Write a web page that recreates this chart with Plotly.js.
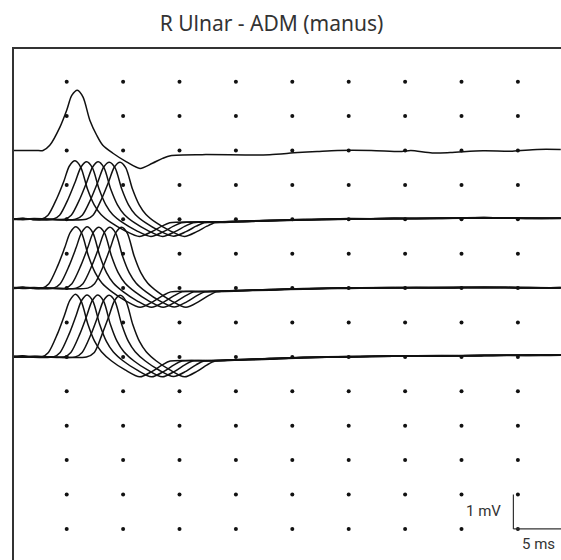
<!DOCTYPE html>
<html>
<head>
<meta charset="utf-8">
<script src="https://cdn.plot.ly/plotly-3.0.1.min.js"></script>
<style>html,body{margin:0;padding:0;background:#fff;}#chart{width:561px;height:560px;}</style>
</head>
<body>
<div id="chart"></div>
<script>
// Grid of dots: one every 5 ms and every 1 mV
const gridTimes = [5, 10, 15, 20, 25, 30, 35, 40, 45];
const gridLevels = [0, -1, -2, -3, -4, -5, -6, -7, -8, -9, -10, -11, -12, -13];

// Channel baselines (mV offsets on the display)
const channelOffsets = [-2, -4, -6, -8];

// Channel 1: single response (time ms, amplitude mV)
const ch1Time = [0.3, 1.5, 2.3, 2.9, 3.5, 4.4, 5.0, 5.45, 5.95, 6.45, 7.05, 7.65, 8.2, 9.1, 10.3, 11.5, 12.6, 13.5, 14.2, 17, 21.2, 23, 25.5, 27.2, 29, 32, 34.7, 35.5, 37.4, 39, 41.9, 44.5, 46.7, 48.8];
const ch1Val  = [0, 0, 0, 0, 0.15, 0.68, 1.17, 1.6, 1.75, 1.55, 0.88, 0.45, 0.15, -0.08, -0.33, -0.52, -0.37, -0.23, -0.15, -0.12, -0.13, -0.12, -0.06, -0.03, 0, 0, -0.03, 0, -0.07, -0.06, -0.01, -0.02, 0.03, 0.03];

// Channel 2: five responses
const ch2Times = [
  [0.3, 1.1, 1.9, 2.74, 3.34, 4.14, 4.74, 5.24, 5.74, 6.24, 6.84, 7.44, 8.04, 8.94, 10.14, 11.44, 12.54, 13.44, 14.14, 17, 20, 23, 26, 30, 34, 38, 42, 46, 48.8],
  [0.3, 1.2, 2.0, 3.77, 4.37, 5.17, 5.77, 6.27, 6.77, 7.27, 7.87, 8.47, 9.07, 9.97, 11.17, 12.47, 13.57, 14.47, 15.17, 17.5, 20, 23, 26, 30, 34, 38, 42, 46, 48.8],
  [0.3, 1.0, 2.2, 4.8, 5.4, 6.2, 6.8, 7.3, 7.8, 8.3, 8.9, 9.5, 10.1, 11.0, 12.2, 13.5, 14.6, 15.5, 16.2, 18, 20, 23, 26, 30, 34, 38, 42, 46, 48.8],
  [0.3, 1.3, 2.1, 5.78, 6.38, 7.18, 7.78, 8.28, 8.78, 9.28, 9.88, 10.48, 11.08, 11.98, 13.18, 14.48, 15.58, 16.48, 17.18, 18.5, 20, 23, 26, 30, 34, 38, 42, 46, 48.8],
  [0.3, 1.1, 2.4, 6.73, 7.33, 8.13, 8.73, 9.23, 9.73, 10.23, 10.83, 11.43, 12.03, 12.93, 14.13, 15.43, 16.53, 17.43, 18.13, 19, 20.5, 23, 26, 30, 34, 38, 42, 46, 48.8]
];
const ch2Vals = [
  [0.01, 0.03, 0, 0, 0.12, 0.62, 1.1, 1.55, 1.70, 1.52, 0.88, 0.42, 0.14, -0.1, -0.33, -0.5, -0.36, -0.2, -0.1, -0.08, -0.07, -0.04, -0.02, 0.01, 0.02, 0.03, 0.04, 0.03, 0.03],
  [0, 0.02, -0.01, 0, 0.12, 0.62, 1.1, 1.52, 1.67, 1.5, 0.88, 0.42, 0.14, -0.1, -0.33, -0.5, -0.36, -0.2, -0.1, -0.08, -0.06, -0.03, -0.01, 0.0, 0.03, 0.02, 0.05, 0.02, 0.04],
  [0.02, 0, 0.01, 0, 0.12, 0.62, 1.1, 1.52, 1.67, 1.5, 0.88, 0.42, 0.14, -0.1, -0.33, -0.5, -0.36, -0.2, -0.1, -0.08, -0.07, -0.05, -0.02, 0.02, 0.01, 0.04, 0.03, 0.03, 0.02],
  [-0.01, 0.01, 0.02, 0, 0.12, 0.62, 1.1, 1.52, 1.66, 1.5, 0.88, 0.42, 0.14, -0.1, -0.33, -0.49, -0.36, -0.2, -0.1, -0.08, -0.06, -0.04, 0, 0.01, 0.02, 0.02, 0.04, 0.04, 0.03],
  [0.01, -0.01, 0.01, 0, 0.12, 0.62, 1.1, 1.52, 1.66, 1.5, 0.88, 0.42, 0.14, -0.1, -0.33, -0.5, -0.36, -0.2, -0.1, -0.09, -0.07, -0.03, -0.01, 0.0, 0.03, 0.03, 0.05, 0.02, 0.03]
];

// Channel 3: five responses
const ch3Times = [
  [0.3, 1.1, 1.9, 2.82, 3.42, 4.22, 4.82, 5.32, 5.82, 6.32, 6.92, 7.52, 8.12, 9.02, 10.22, 11.52, 12.62, 13.52, 14.22, 17, 20, 23, 26, 30, 34, 38, 42, 46, 48.8],
  [0.3, 1.2, 2.0, 3.83, 4.43, 5.23, 5.83, 6.33, 6.83, 7.33, 7.93, 8.53, 9.13, 10.03, 11.23, 12.53, 13.63, 14.53, 15.23, 17.5, 20, 23, 26, 30, 34, 38, 42, 46, 48.8],
  [0.3, 1.0, 2.2, 4.86, 5.46, 6.26, 6.86, 7.36, 7.86, 8.36, 8.96, 9.56, 10.16, 11.06, 12.26, 13.56, 14.66, 15.56, 16.26, 18, 20, 23, 26, 30, 34, 38, 42, 46, 48.8],
  [0.3, 1.3, 2.1, 5.84, 6.44, 7.24, 7.84, 8.34, 8.84, 9.34, 9.94, 10.54, 11.14, 12.04, 13.24, 14.54, 15.64, 16.54, 17.24, 18.5, 20, 23, 26, 30, 34, 38, 42, 46, 48.8],
  [0.3, 1.1, 2.4, 6.87, 7.47, 8.27, 8.87, 9.37, 9.87, 10.37, 10.97, 11.57, 12.17, 13.07, 14.27, 15.57, 16.67, 17.57, 18.27, 19, 20.5, 23, 26, 30, 34, 38, 42, 46, 48.8]
];
const ch3Vals = [
  [0.01, 0.03, 0, 0, 0.13, 0.66, 1.17, 1.62, 1.78, 1.6, 0.94, 0.45, 0.15, -0.11, -0.37, -0.56, -0.4, -0.22, -0.11, -0.1, -0.08, -0.05, -0.03, 0, 0.01, 0.02, 0.01, 0.02, 0.01],
  [0, 0.02, -0.01, 0, 0.13, 0.66, 1.17, 1.62, 1.78, 1.6, 0.94, 0.45, 0.15, -0.11, -0.37, -0.56, -0.4, -0.22, -0.11, -0.1, -0.07, -0.04, -0.02, 0.01, 0.02, 0.0, 0.02, 0.01, 0.02],
  [0.02, 0, 0.01, 0, 0.13, 0.66, 1.17, 1.62, 1.77, 1.6, 0.94, 0.45, 0.15, -0.11, -0.37, -0.56, -0.4, -0.22, -0.11, -0.1, -0.08, -0.06, -0.02, -0.01, 0.01, 0.02, 0.02, 0.0, 0.01],
  [-0.01, 0.01, 0.02, 0, 0.13, 0.66, 1.17, 1.62, 1.77, 1.6, 0.94, 0.45, 0.15, -0.11, -0.37, -0.55, -0.4, -0.22, -0.11, -0.1, -0.07, -0.05, -0.01, 0.0, 0.02, 0.01, 0.03, 0.01, 0.02],
  [0.01, -0.01, 0.01, 0, 0.13, 0.66, 1.17, 1.62, 1.77, 1.6, 0.94, 0.45, 0.15, -0.11, -0.37, -0.56, -0.4, -0.22, -0.11, -0.1, -0.08, -0.04, -0.02, 0.01, 0.0, 0.02, 0.02, 0.02, 0.0]
];

// Channel 4: five responses
const ch4Times = [
  [0.3, 1.1, 1.9, 2.78, 3.38, 4.18, 4.78, 5.28, 5.78, 6.28, 6.88, 7.48, 8.08, 8.98, 10.18, 11.48, 12.58, 13.48, 14.18, 17, 20, 23, 26, 30, 34, 38, 42, 46, 48.8],
  [0.3, 1.2, 2.0, 3.82, 4.42, 5.22, 5.82, 6.32, 6.82, 7.32, 7.92, 8.52, 9.12, 10.02, 11.22, 12.52, 13.62, 14.52, 15.22, 17.5, 20, 23, 26, 30, 34, 38, 42, 46, 48.8],
  [0.3, 1.0, 2.2, 4.77, 5.37, 6.17, 6.77, 7.27, 7.77, 8.27, 8.87, 9.47, 10.07, 10.97, 12.17, 13.47, 14.57, 15.47, 16.17, 18, 20, 23, 26, 30, 34, 38, 42, 46, 48.8],
  [0.3, 1.3, 2.1, 5.77, 6.37, 7.17, 7.77, 8.27, 8.77, 9.27, 9.87, 10.47, 11.07, 11.97, 13.17, 14.47, 15.57, 16.47, 17.17, 18.5, 20, 23, 26, 30, 34, 38, 42, 46, 48.8],
  [0.3, 1.1, 2.4, 6.75, 7.45, 8.15, 8.75, 9.25, 9.75, 10.25, 10.85, 11.45, 12.05, 12.95, 14.15, 15.45, 16.55, 17.45, 18.15, 19, 20.5, 23, 26, 30, 34, 38, 42, 46, 48.8]
];
const ch4Vals = [
  [0.01, 0.03, 0, 0, 0.13, 0.67, 1.19, 1.64, 1.82, 1.62, 0.95, 0.45, 0.15, -0.12, -0.38, -0.58, -0.42, -0.23, -0.12, -0.11, -0.09, -0.06, -0.03, 0, 0.02, 0.03, 0.04, 0.05, 0.06],
  [0, 0.02, -0.01, 0, 0.13, 0.67, 1.19, 1.64, 1.8, 1.62, 0.95, 0.45, 0.15, -0.12, -0.38, -0.58, -0.42, -0.23, -0.12, -0.11, -0.08, -0.05, -0.02, 0.01, 0.03, 0.02, 0.05, 0.04, 0.05],
  [0.02, 0, 0.01, 0, 0.13, 0.67, 1.19, 1.64, 1.8, 1.62, 0.95, 0.45, 0.15, -0.12, -0.38, -0.58, -0.42, -0.23, -0.12, -0.11, -0.09, -0.07, -0.02, 0.0, 0.02, 0.04, 0.03, 0.06, 0.05],
  [-0.01, 0.01, 0.02, 0, 0.13, 0.67, 1.19, 1.64, 1.79, 1.62, 0.95, 0.45, 0.15, -0.12, -0.38, -0.57, -0.42, -0.23, -0.12, -0.11, -0.08, -0.05, -0.01, 0.01, 0.03, 0.03, 0.05, 0.05, 0.06],
  [0.01, -0.01, 0.01, 0, 0.13, 0.67, 1.19, 1.64, 1.79, 1.62, 0.95, 0.45, 0.15, -0.12, -0.38, -0.58, -0.42, -0.23, -0.12, -0.11, -0.09, -0.05, -0.02, 0.0, 0.02, 0.03, 0.04, 0.04, 0.06]
];

// Scale bar
const scaleBarTime = 44.6;   // ms, left end
const scaleBarLevel = -13;   // mV, bottom
const scaleBarMv = 1;
const scaleBarMs = 5;

const traces = [];

// dots
const dx = [], dy = [];
gridLevels.forEach(l => gridTimes.forEach(t => { dx.push(t); dy.push(l); }));
traces.push({x: dx, y: dy, mode: 'markers', type: 'scatter', hoverinfo: 'skip',
  marker: {size: 4, color: '#111'}});

const lineStyle = {color: '#111', width: 1.5, shape: 'spline', smoothing: 0.8};

function addTrace(times, vals, offset) {
  traces.push({x: times, y: vals.map(v => v + offset), mode: 'lines', type: 'scatter',
    line: lineStyle, hoverinfo: 'skip'});
}
addTrace(ch1Time, ch1Val, channelOffsets[0]);
[[ch2Times, ch2Vals, 1], [ch3Times, ch3Vals, 2], [ch4Times, ch4Vals, 3]].forEach(([T, V, c]) => {
  T.forEach((t, i) => addTrace(t, V[i], channelOffsets[c]));
});

// pixel geometry: 1 ms = 11.28 px, 5 ms grid column at 66.7 px; 1 mV = 34.4 px, level 0 at 81.7 px
const L = 14, TOP = 49;
const xr = [(L - 10.3) / 11.28, (561 - 10.3) / 11.28];
const yr = [(560 - 81.7) / -34.4, (81.7 - TOP) / 34.4];

const layout = {
  width: 561, height: 560,
  margin: {l: L, r: 0, t: TOP, b: 0, pad: 0},
  paper_bgcolor: '#fff', plot_bgcolor: '#fff',
  showlegend: false,
  title: {text: 'R Ulnar - ADM (manus)', x: 271.5 / 561, xanchor: 'center', xref: 'container',
    y: 1 - 23.5 / 560, yanchor: 'middle', yref: 'container',
    font: {family: 'Noto Sans, sans-serif', size: 21, color: '#333'}},
  xaxis: {range: xr, showgrid: false, zeroline: false, showticklabels: false, ticks: '',
    showline: true, side: 'top', linecolor: '#333', linewidth: 2, fixedrange: true},
  yaxis: {range: yr, showgrid: false, zeroline: false, showticklabels: false, ticks: '',
    showline: true, linecolor: '#333', linewidth: 2, fixedrange: true},
  shapes: [
    {type: 'line', xref: 'x', yref: 'y', x0: scaleBarTime, x1: scaleBarTime,
      y0: scaleBarLevel, y1: scaleBarLevel + scaleBarMv, line: {color: '#333', width: 1.2}},
    {type: 'line', xref: 'x', yref: 'y', x0: scaleBarTime, x1: scaleBarTime + scaleBarMs,
      y0: scaleBarLevel, y1: scaleBarLevel, line: {color: '#333', width: 1.2}}
  ],
  annotations: [
    {text: scaleBarMv + ' mV', x: scaleBarTime - 0.9, y: scaleBarLevel + 0.53, xref: 'x', yref: 'y',
      xanchor: 'right', yanchor: 'middle', showarrow: false,
      font: {family: 'Roboto, sans-serif', size: 15, color: '#333'}},
    {text: scaleBarMs + ' ms', x: scaleBarTime + 0.6, y: scaleBarLevel - 0.43, xref: 'x', yref: 'y',
      xanchor: 'left', yanchor: 'middle', showarrow: false,
      font: {family: 'Roboto, sans-serif', size: 15, color: '#333'}}
  ]
};

Plotly.newPlot('chart', traces, layout, {displayModeBar: false, staticPlot: true});
</script>
</body>
</html>
